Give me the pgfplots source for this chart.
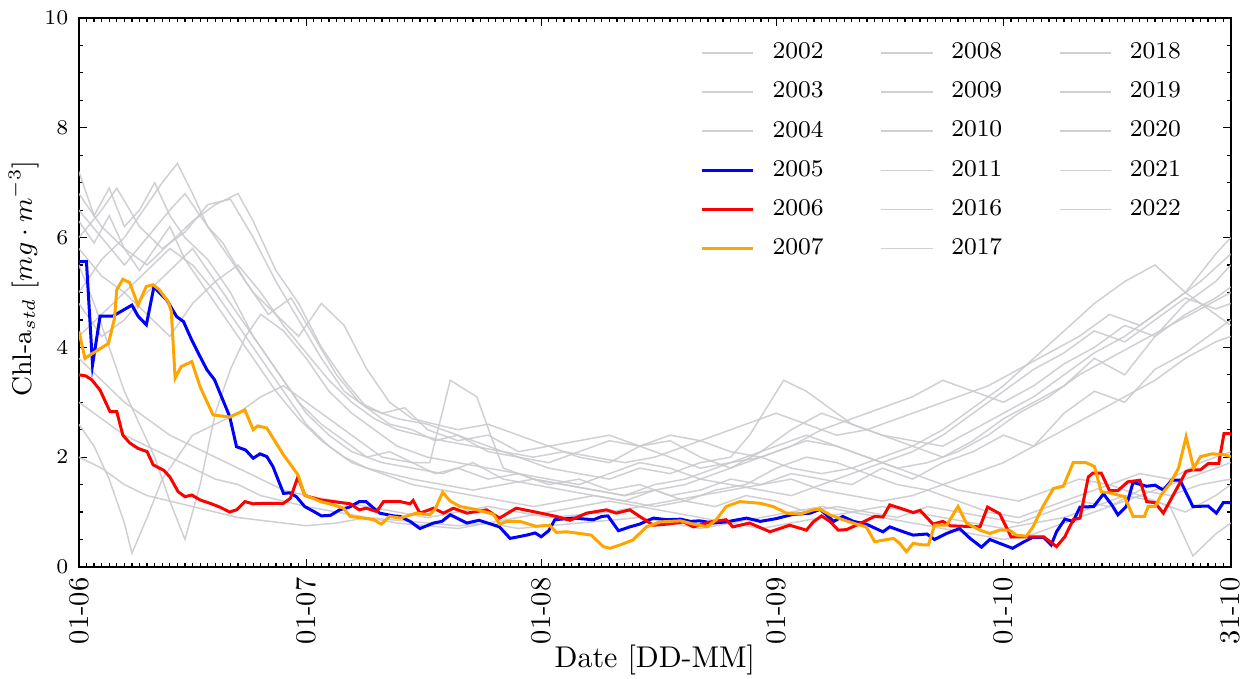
\documentclass[border=0pt]{standalone}
\usepackage{pgfplots}
\pgfplotsset{compat=1.18}
\definecolor{lgray}{RGB}{200,200,205}
\definecolor{cblue}{RGB}{0,0,255}
\definecolor{cred}{RGB}{255,0,0}
\definecolor{corange}{RGB}{255,165,0}
\tikzset{gl/.style={color=lgray, line width=0.5pt, opacity=0.85},
         hl/.style={line width=1pt}}
\begin{document}
\begin{tikzpicture}
\useasboundingbox (-26.3pt,-37.3pt) rectangle ++(414.7pt,226.3pt);
\begin{axis}[
  at={(0pt,0pt)}, anchor=south west,
  scale only axis, width=384pt, height=183pt,
  xmin=0, xmax=152, ymin=0, ymax=10,
  xtick={0,30,61,92,122,152},
  xticklabels={01-06,01-07,01-08,01-09,01-10,31-10},
  minor xtick={0,1,...,152},
  ytick={0,2,...,10}, minor y tick num=3,
  tick align=inside, xtick pos=both, ytick pos=both,
  xticklabel pos=lower, yticklabel pos=left,
  major tick length=2.6pt, minor tick length=1.4pt,
  every tick/.style={black, line width=0.4pt},
  axis line style={line width=0.6pt},
  xticklabel style={rotate=90, anchor=east, font=\fontsize{9.5}{11}\selectfont},
  yticklabel style={font=\fontsize{7}{8}\selectfont},
  xlabel={Date [DD-MM]},
  ylabel={Chl-a$_{std}$ $[mg\cdot m^{-3}]$},
  xlabel style={font=\fontsize{10}{12}\selectfont, at={(axis description cs:0.5,-0.17)}, anchor=center},
  ylabel style={font=\fontsize{9}{11}\selectfont, at={(axis description cs:-0.048,0.525)}, anchor=center, rotate=0},
  legend columns=3,
  legend cell align=left,
  legend style={at={(rel axis cs:0.539,0.967)}, anchor=north west, draw=none, fill=none,
    inner sep=0pt, font=\fontsize{8}{9.6}\selectfont, row sep=2.2pt,
    /tikz/every odd column/.append style={column sep=4pt},
    /tikz/every even column/.append style={column sep=17pt}},
]
% ---- gray years ----
% 2002
\addplot[gl, forget plot] coordinates {(0,7.2)(2,6.4)(4,6.9)(6,6.2)(8,6.5)(10,7.0)(12,6.4)(14,6.0)(17,5.6)(20,5.0)(23,4.2)(26,3.6)(29,3.0)(32,2.6)(35,2.3)(38,2.0)(41,2.1)(44,1.9)(47,1.7)(50,1.8)(54,1.6)(58,1.7)(62,1.5)(66,1.6)(70,1.4)(74,1.5)(78,1.3)(82,1.4)(86,1.6)(90,1.5)(94,1.7)(98,1.6)(102,1.5)(106,1.8)(110,1.6)(114,1.9)(118,2.1)(122,2.4)(126,2.2)(130,2.8)(134,3.2)(138,3.0)(142,3.6)(146,3.9)(150,4.3)(152,4.5)};
% 2003
\addplot[gl, forget plot] coordinates {(0,5.0)(3,5.6)(6,6.0)(9,6.6)(11,7.0)(13,7.35)(15,6.8)(17,6.2)(19,5.9)(22,5.2)(25,4.6)(28,4.9)(31,4.2)(34,3.5)(37,3.0)(40,2.8)(43,2.9)(46,2.5)(50,2.3)(54,2.4)(58,2.1)(62,2.2)(66,2.0)(70,1.9)(74,2.2)(78,2.3)(82,2.0)(86,1.8)(90,2.1)(94,2.5)(98,2.8)(102,2.6)(106,2.4)(110,2.2)(114,2.0)(118,2.3)(122,2.7)(126,3.0)(130,3.3)(134,3.8)(138,3.5)(142,4.2)(146,4.6)(150,4.9)(152,5.1)};
% 2004
\addplot[gl, forget plot] coordinates {(0,2.6)(2,2.2)(4,1.6)(6,0.8)(7,0.25)(9,0.9)(11,1.6)(13,2.0)(15,2.4)(18,2.6)(21,2.8)(24,3.1)(27,3.3)(30,3.0)(33,2.7)(36,2.4)(40,2.0)(44,1.9)(46.3,1.9)(49,3.4)(52.5,3.1)(54.6,2.3)(56,1.8)(60,1.6)(64,1.5)(68,1.4)(72,1.3)(76,1.4)(80,1.2)(84,1.1)(88,1.3)(92,1.2)(96,1.0)(100,1.1)(104,1.0)(108,0.9)(112,1.1)(116,1.0)(120,0.9)(124,0.8)(128,1.0)(132,1.2)(136,1.1)(140,1.4)(144,1.3)(148,1.5)(152,1.6)};
% 2008
\addplot[gl, forget plot] coordinates {(0,6.8)(3,6.2)(6,5.8)(9,5.5)(12,5.9)(15,6.3)(18,6.6)(21,6.8)(23,6.3)(26,5.4)(29,4.8)(32,4.0)(35,3.4)(38,2.9)(41,2.6)(44,2.5)(47,2.3)(50,2.4)(54,2.1)(58,2.0)(62,1.9)(66,2.1)(70,2.3)(74,2.2)(78,2.4)(82,2.3)(86,2.1)(90,2.0)(94,2.2)(98,2.5)(102,2.7)(106,2.9)(110,3.1)(114,3.4)(118,3.2)(122,3.0)(126,3.3)(130,3.7)(134,4.0)(138,4.4)(142,4.2)(146,4.8)(150,5.2)(152,5.5)};
% 2009
\addplot[gl, forget plot] coordinates {(0,4.8)(3,4.2)(6,4.5)(9,5.0)(12,5.4)(15,5.8)(18,5.2)(21,4.6)(24,4.0)(27,3.4)(30,2.8)(33,2.4)(36,2.1)(40,1.9)(44,1.8)(48,1.7)(52,1.9)(56,1.6)(60,1.5)(64,1.4)(68,1.3)(72,1.2)(76,1.1)(80,1.2)(84,1.4)(88,1.5)(92,1.8)(96,2.0)(100,1.9)(104,1.7)(108,1.5)(112,1.4)(116,1.2)(120,1.0)(124,0.9)(128,1.1)(132,1.3)(136,1.5)(140,1.7)(144,1.6)(148,1.9)(152,2.1)};
% 2010
\addplot[gl, forget plot] coordinates {(0,6.0)(3,6.5)(5,6.9)(8,6.2)(11,5.8)(14,6.1)(17,6.6)(20,6.7)(23,6.0)(26,5.2)(29,4.5)(32,3.8)(35,3.2)(38,2.9)(42,2.7)(46,2.6)(50,2.4)(54,2.2)(58,2.0)(62,1.8)(66,1.7)(70,1.6)(74,1.8)(78,1.7)(82,1.9)(86,2.0)(88.5,2.4)(93,3.4)(96,3.2)(99,2.9)(102,2.6)(106,2.4)(110,2.3)(114,2.2)(118,2.5)(122,2.8)(126,3.1)(130,3.5)(134,3.9)(138,4.2)(142,4.6)(146,5.0)(150,5.7)(152,6.0)};
% 2011
\addplot[gl, forget plot] coordinates {(0,3.0)(3,2.7)(6,2.4)(9,2.2)(12,2.0)(15,1.8)(18,1.6)(21,1.5)(24,1.3)(27,1.2)(30,1.1)(34,1.0)(38,0.9)(42,0.85)(46,0.8)(50,0.75)(54,0.8)(58,0.7)(62,0.75)(66,0.8)(70,0.85)(74,0.9)(78,0.8)(82,0.7)(86,0.8)(90,0.9)(94,1.0)(98,1.1)(102,1.0)(106,0.9)(110,0.8)(114,0.7)(118,0.6)(122,0.5)(126,0.6)(130,0.8)(134,1.0)(138,1.2)(142,1.4)(146,1.6)(150,1.8)(152,1.9)};
% 2016
\addplot[gl, forget plot] coordinates {(0,5.5)(2,4.8)(4,4.0)(6,3.2)(8,2.6)(10,2.0)(12,1.2)(14,0.5)(16,1.5)(18,2.8)(20,3.6)(22,4.2)(24,4.6)(27,4.3)(30,3.8)(33,3.2)(36,2.8)(39,2.5)(42,2.2)(46,2.0)(50,1.9)(54,1.8)(58,1.7)(62,1.6)(66,1.5)(70,1.7)(74,1.9)(78,1.8)(82,1.6)(86,1.5)(90,1.4)(94,1.3)(98,1.5)(102,1.7)(106,1.9)(110,2.1)(114,2.4)(118,2.8)(122,3.2)(126,3.6)(130,3.9)(134,4.3)(138,4.1)(142,4.5)(146,4.9)(150,4.7)(152,4.8)};
% 2017
\addplot[gl, forget plot] coordinates {(0,4.2)(3,4.6)(6,5.0)(9,5.4)(12,5.8)(15,5.5)(18,5.0)(21,4.4)(24,3.8)(27,3.2)(30,2.6)(33,2.2)(36,1.9)(40,1.7)(44,1.5)(48,1.4)(52,1.3)(56,1.2)(60,1.1)(64,1.2)(68,1.3)(72,1.2)(76,1.4)(80,1.5)(84,1.7)(88,1.9)(92,2.1)(96,2.3)(100,2.2)(104,2.0)(108,1.8)(112,1.6)(116,1.4)(120,1.3)(124,1.2)(128,1.4)(132,1.6)(136,1.5)(140,1.3)(144,1.1)(147,0.2)(150,0.6)(152,0.8)};
% 2018
\addplot[gl, forget plot] coordinates {(0,6.5)(3,6.0)(6,5.5)(9,6.0)(12,6.5)(14,6.8)(17,6.2)(20,5.6)(23,5.0)(26,4.6)(29,4.2)(32,4.8)(35,4.4)(38,3.6)(41,3.0)(44,2.7)(47,2.6)(50,2.5)(54,2.6)(58,2.4)(62,2.2)(66,2.3)(70,2.4)(74,2.2)(78,2.0)(82,1.8)(86,1.9)(90,2.0)(94,1.8)(98,1.7)(102,1.8)(106,2.0)(110,2.2)(114,2.5)(118,2.9)(122,3.3)(126,3.8)(130,4.3)(134,4.8)(138,5.2)(142,5.5)(146,5.0)(150,4.6)(152,4.4)};
% 2019
\addplot[gl, forget plot] coordinates {(0,2.0)(3,1.8)(6,1.5)(9,1.3)(12,1.2)(15,1.1)(18,1.0)(21,0.9)(24,0.85)(27,0.8)(30,0.75)(34,0.8)(38,0.9)(42,0.8)(46,0.75)(50,0.7)(54,0.8)(58,0.9)(62,1.0)(66,1.1)(70,1.2)(74,1.1)(78,1.0)(82,0.9)(86,0.8)(90,0.7)(94,0.8)(98,0.9)(102,1.0)(106,1.1)(110,1.0)(114,0.9)(118,0.8)(122,0.7)(126,0.8)(130,0.9)(134,1.1)(138,1.3)(142,1.2)(146,1.0)(150,1.3)(152,1.5)};
% 2020
\addplot[gl, forget plot] coordinates {(0,5.8)(3,5.3)(6,5.0)(9,4.6)(12,4.2)(15,4.8)(18,5.2)(21,5.5)(24,5.0)(27,4.4)(30,3.9)(33,3.4)(36,3.0)(39,2.7)(42,2.5)(45,2.4)(48,2.3)(52,2.2)(56,2.1)(60,2.0)(64,2.1)(68,2.0)(72,1.9)(76,2.0)(80,2.2)(84,2.4)(88,2.6)(92,2.8)(96,2.6)(100,2.4)(104,2.5)(108,2.7)(112,2.9)(116,3.1)(120,3.3)(124,3.6)(128,3.9)(132,4.2)(136,4.6)(140,4.4)(144,4.8)(148,5.2)(152,5.7)};
% 2021
\addplot[gl, forget plot] coordinates {(0,3.8)(3,3.4)(6,3.0)(9,2.7)(12,2.4)(15,2.2)(18,2.0)(21,1.8)(24,1.6)(27,1.4)(30,1.3)(34,1.2)(38,1.1)(42,1.0)(46,0.9)(50,1.0)(54,1.1)(58,1.0)(62,0.9)(66,0.95)(70,1.0)(74,1.1)(78,1.2)(82,1.3)(86,1.4)(90,1.5)(94,1.6)(98,1.4)(102,1.3)(106,1.2)(110,1.3)(114,1.5)(118,1.7)(122,1.9)(126,2.2)(130,2.5)(134,2.8)(138,3.1)(142,3.4)(146,3.8)(150,4.1)(152,4.2)};
% 2022
\addplot[gl, forget plot] coordinates {(0,6.3)(2,5.9)(4,6.4)(6,5.8)(8,5.4)(10,5.8)(12,6.2)(14,5.6)(17,5.0)(20,4.4)(23,3.8)(26,3.2)(29,2.7)(32,2.3)(35,2.0)(38,1.8)(41,1.7)(44,1.6)(48,1.5)(52,1.4)(56,1.5)(60,1.6)(64,1.5)(68,1.4)(72,1.3)(76,1.5)(80,1.6)(84,1.8)(88,2.0)(92,2.2)(96,2.4)(100,2.2)(104,2.0)(108,1.8)(112,1.9)(116,2.1)(120,2.4)(124,2.8)(128,3.1)(132,3.5)(136,3.8)(140,4.1)(144,4.4)(148,4.7)(152,5.0)};
% ---- 2005 ----
\addplot[cblue, hl, forget plot] coordinates {(0,5.56)(1,5.56)(1.8,3.68)(2.8,4.57)(4.5,4.57)(7,4.77)(7.8,4.57)(8.9,4.41)(9.9,5.10)(11.6,4.86)(12.9,4.56)(13.8,4.47)(14.9,4.13)(16,3.83)(16.9,3.59)(17.9,3.41)(19,3.04)(19.9,2.74)(20.8,2.19)(22,2.13)(23,1.98)(23.9,2.06)(24.8,2.01)(25.6,1.83)(27,1.34)(27.8,1.35)(28.7,1.28)(29.8,1.10)(31,1.01)(32,0.93)(33.2,0.94)(34.4,1.04)(35.7,1.09)(37,1.19)(37.9,1.19)(38.9,1.07)(39.7,0.98)(41.5,0.93)(42.4,0.92)(43.7,0.83)(45,0.70)(46.8,0.80)(47.9,0.83)(49,0.95)(51.2,0.80)(52.8,0.85)(55.5,0.73)(56.9,0.52)(59.1,0.58)(60.2,0.62)(61,0.55)(62,0.66)(62.8,0.86)(65.2,0.89)(67.9,0.86)(69,0.92)(69.8,0.93)(71.2,0.66)(72.7,0.73)(74,0.78)(75.8,0.89)(77.6,0.86)(79.4,0.87)(80.7,0.83)(81.9,0.84)(83.7,0.80)(85.4,0.82)(88.1,0.89)(89.9,0.83)(92,0.88)(94,0.95)(96.5,0.98)(97.8,1.05)(99.6,0.83)(100.8,0.92)(102.2,0.83)(103.9,0.78)(106.1,0.64)(107,0.73)(108.8,0.64)(110.1,0.58)(111.9,0.60)(112.9,0.50)(114.5,0.61)(116.2,0.70)(117.6,0.52)(119.1,0.36)(120.2,0.50)(121.5,0.43)(123.2,0.34)(124.6,0.45)(125.9,0.54)(127.3,0.54)(128.3,0.40)(129,0.64)(130.1,0.87)(131.2,0.83)(132.1,1.09)(133.9,1.10)(135.2,1.33)(136.3,1.13)(137.1,0.95)(138.2,1.10)(139.1,1.54)(140.9,1.47)(142,1.49)(143.1,1.40)(144.2,1.58)(145.3,1.58)(147,1.10)(149,1.11)(150.1,0.98)(151,1.17)(152,1.17)};
% ---- 2006 ----
\addplot[cred, hl, forget plot] coordinates {(0,3.50)(0.9,3.48)(1.7,3.41)(2.8,3.22)(4.1,2.83)(5,2.83)(5.8,2.40)(6.7,2.26)(7.8,2.16)(9,2.10)(9.8,1.86)(11.2,1.76)(12,1.64)(13.1,1.37)(14,1.28)(14.9,1.31)(16,1.22)(17.3,1.16)(18.6,1.09)(19.9,1.00)(20.8,1.04)(21.9,1.19)(23,1.15)(24.8,1.16)(27,1.16)(27.9,1.25)(28.9,1.64)(29.8,1.31)(30.3,1.28)(31.9,1.22)(33.6,1.19)(35.8,1.15)(37,1.04)(37.9,1.07)(39.3,1.01)(40.2,1.19)(42.4,1.19)(43.7,1.15)(44.1,1.21)(45,0.98)(46.8,1.07)(48.1,0.98)(49.4,1.07)(51.2,0.98)(53.8,1.04)(55.5,0.89)(57.7,1.07)(59.9,1.01)(63,0.92)(64.8,0.85)(67,0.98)(69.6,1.04)(70.9,0.98)(72.7,1.04)(74,0.92)(75.8,0.76)(77.6,0.78)(79.8,0.82)(81.1,0.73)(83.3,0.82)(85.4,0.86)(86.3,0.73)(88.5,0.80)(91.2,0.64)(93.8,0.76)(96,0.67)(96.9,0.82)(98,0.93)(99.1,0.83)(100.2,0.67)(101.3,0.68)(102.9,0.78)(105,0.92)(106.1,0.91)(107,1.13)(108.4,1.07)(110.1,0.99)(111,1.03)(112.7,0.78)(114,0.83)(115,0.75)(118.9,0.73)(119.9,1.09)(121.5,0.97)(123,0.55)(125,0.55)(127.3,0.55)(129,0.37)(130.1,0.55)(131.2,0.86)(132.1,0.89)(133.2,1.64)(133.8,1.71)(134.9,1.71)(136,1.39)(137.1,1.39)(138.4,1.55)(140,1.58)(140.9,1.19)(142,1.17)(143.1,0.98)(146.1,1.74)(147,1.77)(148,1.77)(149,1.88)(150.4,1.88)(151.1,2.43)(152,2.43)};
% ---- 2007 ----
\addplot[corange, hl, forget plot] coordinates {(0,4.29)(0.8,3.80)(2.5,3.95)(3.9,4.07)(4.7,4.53)(5.0,5.05)(5.8,5.24)(6.7,5.18)(7.8,4.77)(8.9,5.11)(9.8,5.14)(10.6,5.05)(11.8,4.83)(12.2,4.65)(12.7,3.44)(13.5,3.65)(14.9,3.74)(16,3.28)(16.8,3.04)(17.7,2.77)(19.9,2.73)(21.9,2.86)(23,2.50)(23.6,2.57)(24.8,2.53)(27,2.04)(27.8,1.89)(28.9,1.68)(29.8,1.31)(31.9,1.19)(33.6,1.13)(34.9,1.07)(35.8,0.92)(37.5,0.89)(38.9,0.86)(39.9,0.78)(41,0.92)(42.4,0.89)(44.5,0.98)(46.3,0.95)(47,1.05)(48,1.36)(49,1.20)(50.3,1.10)(52.3,1.05)(54.7,0.96)(55.5,0.78)(56.5,0.83)(58.2,0.83)(60.3,0.74)(62.1,0.76)(63,0.63)(64.4,0.64)(66.1,0.61)(67.6,0.58)(69.2,0.37)(70.1,0.34)(71.4,0.40)(73.1,0.49)(74.9,0.73)(76.7,0.82)(79.4,0.84)(81.1,0.78)(82.9,0.73)(84.1,0.86)(85.4,1.10)(87.2,1.19)(89.9,1.16)(91.6,1.10)(93.4,0.98)(95.1,0.96)(96.9,1.04)(97.8,1.05)(99.1,0.95)(100.8,0.86)(102.6,0.78)(103.9,0.73)(105,0.46)(107.5,0.52)(108.3,0.43)(109.2,0.28)(110.1,0.43)(111.4,0.40)(112.1,0.40)(112.9,0.76)(114.5,0.76)(116,1.10)(117.1,0.80)(118.9,0.67)(120.2,0.61)(121.5,0.67)(122.8,0.67)(123.7,0.58)(125,0.56)(125.9,0.73)(127.2,1.10)(128.6,1.43)(129.9,1.47)(131.2,1.90)(132.9,1.90)(134,1.83)(134.9,1.37)(136,1.35)(138,1.28)(139.1,0.92)(140.6,0.92)(141.1,1.10)(142,1.10)(142.9,1.33)(144,1.52)(145.1,1.80)(146.1,2.37)(147.1,1.80)(148,2.01)(149.5,2.06)(150.9,2.05)(152,2.01)};
% ---- legend (row-major order for column-major look) ----
\addlegendimage{gl}\addlegendentry{2002}
\addlegendimage{gl}\addlegendentry{2008}
\addlegendimage{gl}\addlegendentry{2018}
\addlegendimage{gl}\addlegendentry{2003}
\addlegendimage{gl}\addlegendentry{2009}
\addlegendimage{gl}\addlegendentry{2019}
\addlegendimage{gl}\addlegendentry{2004}
\addlegendimage{gl}\addlegendentry{2010}
\addlegendimage{gl}\addlegendentry{2020}
\addlegendimage{cblue, hl}\addlegendentry{2005}
\addlegendimage{gl}\addlegendentry{2011}
\addlegendimage{gl}\addlegendentry{2021}
\addlegendimage{cred, hl}\addlegendentry{2006}
\addlegendimage{gl}\addlegendentry{2016}
\addlegendimage{gl}\addlegendentry{2022}
\addlegendimage{corange, hl}\addlegendentry{2007}
\addlegendimage{gl}\addlegendentry{2017}
\end{axis}
\end{tikzpicture}
\end{document}
